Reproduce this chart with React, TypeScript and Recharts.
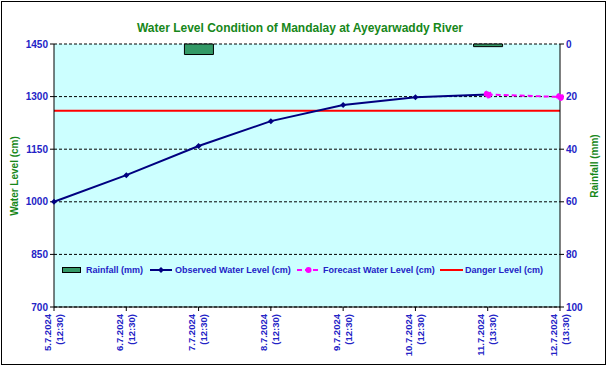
import React from 'react'
import {
  Bar,
  CartesianGrid,
  ComposedChart,
  Legend,
  Line,
  XAxis,
  YAxis,
} from 'recharts'

const dates = ['5.7.2024', '6.7.2024', '7.7.2024', '8.7.2024', '9.7.2024', '10.7.2024', '11.7.2024', '12.7.2024']
const times = ['(12:30)', '(12:30)', '(12:30)', '(12:30)', '(12:30)', '(12:30)', '(13:30)', '(13:30)']
const observed = [1000, 1076, 1159, 1230, 1276, 1298, 1306, null]
const forecast = [null, null, null, null, null, null, 1306, 1299]
const rainfall = [null, null, 4, null, null, null, 1, null]
const danger = [1260, 1260, 1260, 1260, 1260, 1260, 1260, 1260]
const levelTicks = [700, 850, 1000, 1150, 1300, 1450]
const rainTicks = [0, 20, 40, 60, 80, 100]

const data = dates.map((d, i) => ({
  i,
  observed: observed[i],
  forecast: forecast[i],
  rainfall: rainfall[i],
  danger: danger[i],
}))

const FONT = '"Liberation Sans", Arial, sans-serif'
const BLUE = '#2323c6'
const GREEN = '#17871a'

function XTick(props: any) {
  const { x, y, payload } = props
  const i = payload.value
  const common = {
    textAnchor: 'end' as const,
    fontSize: 9.5,
    fontWeight: 'bold',
    fontFamily: FONT,
    fill: BLUE,
  }
  return (
    <g>
      <text {...common} transform={`translate(${x - 3.5},${y + 1}) rotate(-90)`}>
        {dates[i]}
      </text>
      <text {...common} transform={`translate(${x + 8.5},${y + 1}) rotate(-90)`}>
        {times[i]}
      </text>
    </g>
  )
}

function Diamond(props: any) {
  const { cx, cy } = props
  if (cx == null || cy == null) return null
  return <polygon points={`${cx},${cy - 3} ${cx + 3},${cy} ${cx},${cy + 3} ${cx - 3},${cy}`} fill="#000080" />
}

function LegendBox() {
  const txt: React.CSSProperties = {
    position: 'absolute',
    top: 0,
    font: `bold 9px ${FONT}`,
    color: BLUE,
    whiteSpace: 'nowrap',
    lineHeight: '12px',
  }
  return (
    <div style={{ position: 'relative', width: 490, height: 12 }}>
      <svg width={490} height={12} style={{ position: 'absolute', left: 0, top: 0 }}>
        <rect x={0.5} y={3.5} width={18} height={5} fill="#339966" stroke="#000" />
        <line x1={88} x2={110} y1={6} y2={6} stroke="#000080" strokeWidth={2} />
        <polygon points="99,3 102,6 99,9 96,6" fill="#000080" />
        <line x1={235} x2={258} y1={6} y2={6} stroke="#ff00ff" strokeWidth={2} strokeDasharray="5 3" />
        <circle cx={246.5} cy={6} r={3} fill="#ff00ff" />
        <line x1={378} x2={401} y1={6} y2={6} stroke="#ff0000" strokeWidth={2} />
      </svg>
      <span style={{ ...txt, left: 24 }}>Rainfall (mm)</span>
      <span style={{ ...txt, left: 113 }}>Observed Water Level (cm)</span>
      <span style={{ ...txt, left: 261 }}>Forecast Water Level (cm)</span>
      <span style={{ ...txt, left: 403 }}>Danger Level (cm)</span>
    </div>
  )
}

export default function App() {
  const axisTick = { fill: BLUE, fontSize: 10, fontWeight: 'bold', fontFamily: FONT }
  return (
    <div style={{ position: 'absolute', left: 0, top: 0, width: 609, height: 367, background: '#fff' }}>
      <div
        style={{
          position: 'absolute',
          left: 1,
          top: 1,
          width: 603,
          height: 362,
          border: '1.5px solid #000',
        }}
      />
      <div
        style={{
          position: 'absolute',
          left: 0,
          top: 21,
          width: 600,
          textAlign: 'center',
          font: `bold 12px ${FONT}`,
          color: GREEN,
        }}
      >
        Water Level Condition of Mandalay at Ayeyarwaddy River
      </div>
      <ComposedChart
        width={609}
        height={367}
        data={data}
        margin={{ top: 44, right: 19, bottom: 5, left: 20 }}
      >
        <CartesianGrid
          yAxisId="left"
          vertical={false}
          stroke="#000"
          strokeDasharray="3 2"
          fill="#ccffff"
          fillOpacity={1}
        />
        <XAxis
          dataKey="i"
          type="number"
          domain={[0, 7]}
          ticks={[0, 1, 2, 3, 4, 5, 6, 7]}
          interval={0}
          height={55}
          tickSize={4}
          tick={<XTick />}
          axisLine={{ stroke: '#000' }}
          tickLine={{ stroke: '#000' }}
        />
        <YAxis
          yAxisId="left"
          domain={[700, 1450]}
          ticks={levelTicks}
          width={34}
          tickSize={4}
          tickMargin={2}
          tick={axisTick}
          axisLine={{ stroke: '#000' }}
          tickLine={{ stroke: '#000' }}
          label={{
            content: () => (
              <text
                transform="translate(18,176) rotate(-90)"
                textAnchor="middle"
                fontSize={10}
                fontWeight="bold"
                fontFamily={FONT}
                fill={GREEN}
              >
                Water Level (cm)
              </text>
            ),
          }}
        />
        <YAxis
          yAxisId="right"
          orientation="right"
          reversed
          domain={[0, 100]}
          ticks={rainTicks}
          width={30}
          tickSize={4}
          tickMargin={2}
          tick={{ ...axisTick, textAnchor: 'start' }}
          axisLine={{ stroke: '#000' }}
          tickLine={{ stroke: '#000' }}
          label={{
            content: () => (
              <text
                transform="translate(598,166) rotate(-90)"
                textAnchor="middle"
                fontSize={10}
                fontWeight="bold"
                fontFamily={FONT}
                fill={GREEN}
              >
                Rainfall (mm)
              </text>
            ),
          }}
        />
        <Bar
          yAxisId="right"
          dataKey="rainfall"
          barSize={29}
          fill="#339966"
          stroke="#000"
          strokeWidth={1}
          isAnimationActive={false}
        />
        <Line
          yAxisId="left"
          dataKey="danger"
          stroke="#ff0000"
          strokeWidth={2}
          dot={false}
          isAnimationActive={false}
        />
        <Line
          yAxisId="left"
          dataKey="observed"
          stroke="#000080"
          strokeWidth={2}
          dot={<Diamond />}
          isAnimationActive={false}
        />
        <Line
          yAxisId="left"
          dataKey="forecast"
          stroke="#ff00ff"
          strokeWidth={2}
          strokeDasharray="5 3"
          dot={{ r: 3, fill: '#ff00ff', stroke: '#ff00ff' }}
          isAnimationActive={false}
        />
        <Legend
          layout="horizontal"
          verticalAlign="middle"
          align="center"
          content={() => <LegendBox />}
          wrapperStyle={{ position: 'absolute', left: 62, top: 264, width: 490 }}
        />
      </ComposedChart>
    </div>
  )
}
